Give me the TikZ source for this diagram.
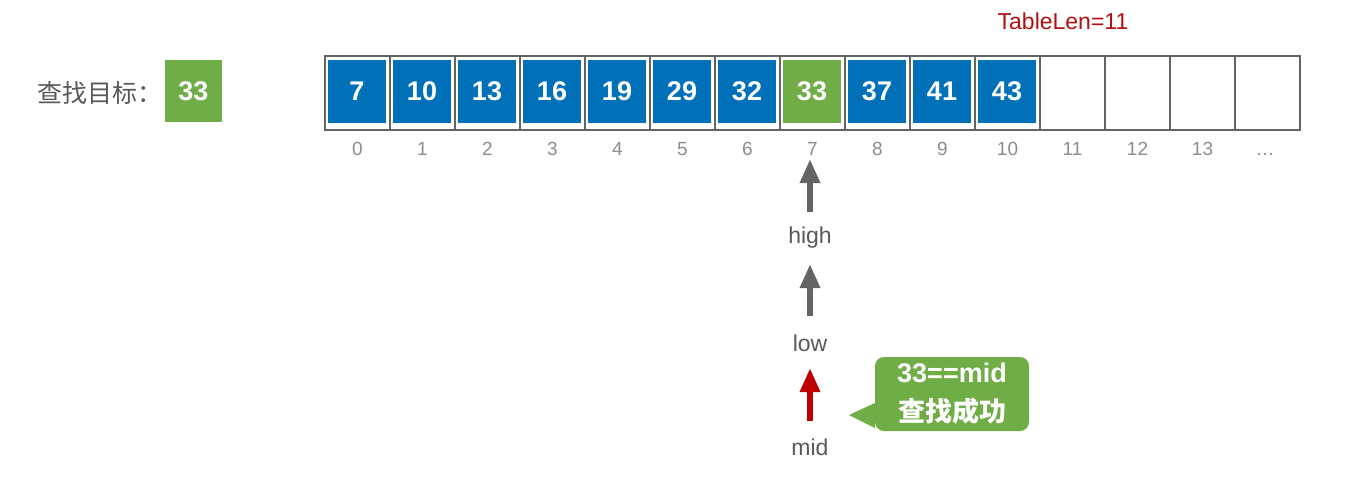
\documentclass[tikz,border=0pt]{standalone}
\usepackage{fontspec}
\setmainfont{Liberation Sans}
\newfontfamily\cjk{Noto Sans CJK SC}
\usetikzlibrary{arrows.meta}
\definecolor{cblue}{RGB}{0,112,184}
\definecolor{cgreen}{RGB}{112,173,71}
\definecolor{cred}{RGB}{192,0,0}
\definecolor{tred}{RGB}{176,16,16}
\definecolor{tgray}{RGB}{89,89,89}
\definecolor{igray}{RGB}{140,140,140}
\definecolor{lgray}{RGB}{100,100,100}
\begin{document}
\begin{tikzpicture}[x=1pt,y=-1pt,
  cell/.style={draw=lgray,line width=1.2pt,minimum width=65pt,minimum height=74pt,inner sep=0pt},
  valbox/.style={fill=#1,minimum width=58pt,minimum height=62.5pt,inner sep=0pt,text=white,
    font=\fontsize{27}{30}\selectfont\bfseries},
  idx/.style={text=igray,font=\fontsize{19}{21}\selectfont,inner sep=0pt,anchor=base},
  ptr/.style={text=tgray,font=\fontsize{23}{26}\selectfont,inner sep=0pt},
  fat/.style={draw=#1,line width=6pt,-{Triangle[width=19pt,length=24pt]}}
]
\useasboundingbox (0,0) rectangle (1363,487);
% table cells
\foreach \i in {0,...,14}{
  \node[cell] (c\i) at (357.5+65*\i,93) {};
  \draw[lgray,line width=1.2pt] (c\i.north west) -- ++(0,76);
}
\draw[lgray,line width=1.2pt] (c14.north east) -- ++(0,76);
% values
\foreach \v [count=\i from 0] in {7,10,13,16,19,29,32,33,37,41,43}{
  \ifnum\i=7
    \node[valbox=cgreen] (v\i) at (357+65*\i,91.5) {\v};
  \else
    \node[valbox=cblue] (v\i) at (357+65*\i,91.5) {\v};
  \fi
}
% indices
\foreach \i in {0,...,13}{
  \node[idx] (i\i) at (357.5+65*\i,155) {\i};
}
\node[idx] (i14) at (1265,155) {\dots};
% target
\node[anchor=west,text=tgray,inner sep=0pt,font=\cjk\fontsize{25}{28}\selectfont] (tl) at (37,93) {查找目标：};
\node[valbox=cgreen,minimum width=57pt] (tv) at (193.5,91) {33};
% TableLen
\node[text=tred,inner sep=0pt,font=\fontsize{23}{26}\selectfont] (len) at (1063,21) {TableLen=11};
% pointers
\node[ptr] (high) at (810,238) {high};
\node[ptr] (low) at (810,343) {low};
\node[ptr] (mid) at (810,447) {mid};
\coordinate (t1) at (810,159);
\coordinate (b1) at (810,212);
\coordinate (t2) at (810,264);
\coordinate (b2) at (810,316);
\coordinate (t3) at (810,368);
\coordinate (b3) at (810,421);
\draw[fat=lgray] (b1) -- (t1);
\draw[fat=lgray] (b2) -- (t2);
\draw[fat=cred] (b3) -- (t3);
% callout
\node[fill=cgreen,rounded corners=9pt,minimum width=154pt,minimum height=74pt,inner sep=0pt,
  text=white,align=center,font=\fontsize{27}{38}\selectfont\bfseries] (co) at (952,394)
  {33==mid\\[1pt]{\cjk 查找成功}};
\coordinate (tip) at (849,415);
\fill[cgreen] (tip) -- (co.west |- 0,403) -- (co.west |- 0,428) -- cycle;
\end{tikzpicture}
\end{document}
